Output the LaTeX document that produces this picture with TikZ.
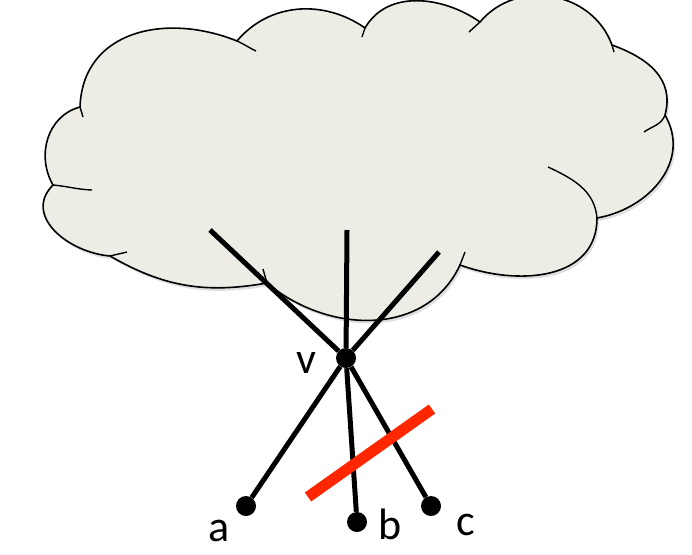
\documentclass[tikz,border=0pt]{standalone}
\usepackage{fontspec}
\setmainfont{Carlito}
\usetikzlibrary{shadows}
\definecolor{cloudfill}{RGB}{238,237,229}
\definecolor{cutred}{RGB}{255,38,0}
\tikzset{
 cloudline/.style={line width=1.6pt},
 puff/.style={line width=1.4pt},
 edge/.style={line width=5pt},
 vertex/.style={circle,fill=black,minimum size=20pt,inner sep=0},
 cutbar/.style={draw=cutred,line width=11pt},
 vlabel/.style={font=\fontsize{44}{44}\selectfont,inner sep=0}
}
\begin{document}
\begin{tikzpicture}[x=1pt,y=1pt]
\useasboundingbox (0,0) rectangle (692,-554);
% cloud
\path[fill=cloudfill,draw,cloudline,drop shadow={opacity=.25,shadow xshift=2pt,shadow yshift=-3pt}]
 (80,-107) to[out=88,in=158,looseness=1.15] (237,-41)
 to[out=50,in=145] (365,-28)
 to[out=60,in=145] (480,-22)
 to[out=50,in=110,looseness=1.1] (612,-45)
 to[out=-20,in=75,looseness=1.1] (665,-115)
 to[out=-60,in=10,looseness=1.1] (597,-218)
 to[out=-90,in=-20,looseness=1.1] (460,-265)
 to[out=-115,in=-40,looseness=1.05] (267,-283)
 to[out=-170,in=-30] (110,-256)
 to[out=175,in=-135,looseness=1.2] (53,-185)
 to[out=120,in=195,looseness=1.05] (80,-107) -- cycle;
\draw[puff] (83,-117) -- (80,-107);
\draw[puff] (237,-41) to[out=-24,in=155] (256,-51);
\draw[puff] (365,-28) -- (362,-37);
\draw[puff] (480,-22) -- (469,-32);
\draw[puff] (612,-45) -- (614,-52);
\draw[puff] (665,-115) to[out=-110,in=35] (644,-132);
\draw[puff] (548,-167) to[out=-25,in=95] (597,-218);
\draw[puff] (460,-265) -- (465,-252);
\draw[puff] (263,-269) -- (267,-283);
\draw[puff] (110,-256) -- (127,-252);
\draw[puff] (53,-185) to[out=-5,in=178] (92,-190);
% vertices
\coordinate (t1) at (210,-230);
\coordinate (t2) at (347,-230);
\coordinate (t3) at (439,-252);
\node[vertex] (v) at (346,-358) {};
\node[vertex] (a) at (246,-506) {};
\node[vertex] (b) at (357,-522) {};
\node[vertex] (c) at (431,-506) {};
\draw[edge] (t1) -- (v) -- (c);
\draw[edge] (t2) -- (v) -- (b);
\draw[edge] (t3) -- (v) -- (a);
% cut
\coordinate (cut1) at (308,-497);
\coordinate (cut2) at (432,-409);
\draw[cutbar] (cut1) -- (cut2);
\node[vlabel] (vl) at (306,-363) {v};
\node[vlabel] (al) at (219,-531) {a};
\node[vlabel] (bl) at (390,-524) {b};
\node[vlabel] (cl) at (466,-525) {c};
\end{tikzpicture}
\end{document}
